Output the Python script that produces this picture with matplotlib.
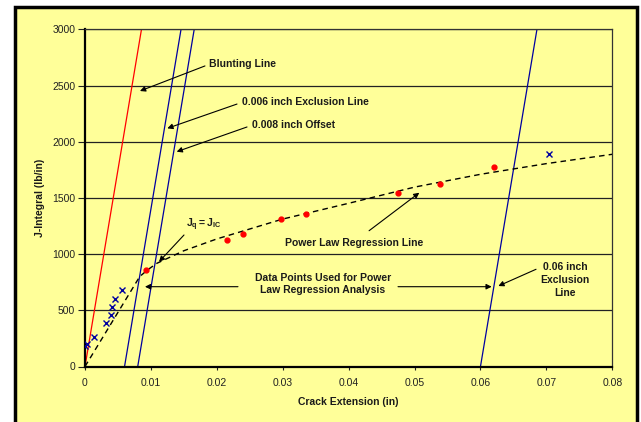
import matplotlib
matplotlib.use("Agg")
import matplotlib.pyplot as plt
from matplotlib.patches import Rectangle

plt.rcParams['font.family'] = ['Liberation Sans', 'DejaVu Sans']
plt.rcParams['mathtext.fontset'] = 'custom'
plt.rcParams['mathtext.rm'] = 'Liberation Sans'
plt.rcParams['mathtext.bf'] = 'Liberation Sans:bold'

# data
used_x = [0.00921, 0.0216, 0.0239, 0.0297, 0.0335, 0.0475, 0.0538, 0.0621]
used_j = [859, 1125, 1176, 1315, 1354, 1546, 1624, 1775]

other_x = [0.0, 0.0003, 0.00137, 0.00319, 0.0040, 0.00414, 0.00455, 0.00566, 0.0704]
other_j = [180, 200, 260, 384, 458, 527, 598, 681, 1891]

# power law regression curve (as drawn)
fit_x = [0.0, 0.0083, 0.0095, 0.0109, 0.015, 0.02, 0.03, 0.04, 0.05, 0.06, 0.07, 0.08]
fit_j = [0, 800, 860, 918, 1030, 1135, 1312, 1452, 1596, 1710, 1805, 1888]

# construction lines (end points)
blunt_x = [0.0, 0.00857]
blunt_j = [0, 3000]
excl1_x = [0.006, 0.01457]
excl1_j = [0, 3000]
offset_x = [0.008, 0.01657]
offset_j = [0, 3000]
excl2_x = [0.06, 0.06857]
excl2_j = [0, 3000]

x_ticks = [0, 0.01, 0.02, 0.03, 0.04, 0.05, 0.06, 0.07, 0.08]
x_labels = ['0', '0.01', '0.02', '0.03', '0.04', '0.05', '0.06', '0.07', '0.08']
y_ticks = [0, 500, 1000, 1500, 2000, 2500, 3000]

yellow = '#FFFF99'
navy = '#0000A0'

fig = plt.figure(figsize=(6.41, 4.22), dpi=100, facecolor='white')
border = Rectangle((15 / 641, -0.05), (636.5 - 15) / 641, 1 - 6.5 / 422 + 0.05,
                   transform=fig.transFigure, facecolor=yellow, edgecolor='black',
                   linewidth=2.5, zorder=-10)
fig.add_artist(border)

ax = fig.add_axes([85 / 641, 1 - 366.5 / 422, 527.3 / 641, 337.2 / 422])
ax.set_facecolor(yellow)

for y in y_ticks[1:]:
    ax.axhline(y, color='#222222', lw=0.9, zorder=1)

ax.plot(blunt_x, blunt_j, color='red', lw=0.9, zorder=2)
ax.plot(excl1_x, excl1_j, color=navy, lw=0.9, zorder=2)
ax.plot(offset_x, offset_j, color=navy, lw=0.9, zorder=2)
ax.plot(excl2_x, excl2_j, color=navy, lw=0.9, zorder=2)
ax.plot(fit_x, fit_j, color='black', lw=1.0, ls=(0, (4, 3)), zorder=3)

ax.plot(used_x, used_j, 'o', color='red', ms=3.5, mec='red', zorder=4)
ax.plot(other_x, other_j, 'x', color=navy, ms=4, mew=1.0, zorder=4)

ax.set_xlim(0, 0.08)
ax.set_ylim(0, 3000)
ax.set_xticks(x_ticks)
ax.set_xticklabels(x_labels)
ax.set_yticks(y_ticks)
ax.tick_params(axis='x', direction='out', length=2.5, pad=6, labelsize=7.5, colors='#222222')
ax.tick_params(axis='y', direction='out', length=5, pad=2, labelsize=7.5, colors='#222222')

for side in ['left', 'bottom']:
    ax.spines[side].set_linewidth(1.6)
    ax.spines[side].set_color('black')
for side in ['right', 'top']:
    ax.spines[side].set_linewidth(0.9)
    ax.spines[side].set_color('#333333')

fig.text(40 / 641, 1 - 198 / 422, 'J-Integral (lb/in)', rotation=90, ha='center',
         va='center', fontsize=7.5, fontweight='bold', color='#1a1a1a')
fig.text(348.7 / 641, 1 - 402 / 422, 'Crack Extension (in)', ha='center',
         va='center', fontsize=7.5, fontweight='bold', color='#1a1a1a')

arrow = dict(arrowstyle='-|>', color='black', lw=0.8, mutation_scale=8,
             shrinkA=0, shrinkB=0)
txt = dict(fontsize=7.5, fontweight='bold', color='#1a1a1a')

ax.annotate('', xy=(0.00834, 2451), xytext=(0.0182, 2674), arrowprops=arrow)
ax.text(0.0188, 2690, 'Blunting Line', ha='left', va='center', **txt)

ax.annotate('', xy=(0.01249, 2119), xytext=(0.02306, 2335), arrowprops=arrow)
ax.text(0.02377, 2356, '0.006 inch Exclusion Line', ha='left', va='center', **txt)

ax.annotate('', xy=(0.01391, 1911), xytext=(0.02458, 2131), arrowprops=arrow)
ax.text(0.02529, 2149, '0.008 inch Offset', ha='left', va='center', **txt)

ax.annotate('', xy=(0.01123, 932), xytext=(0.01502, 1170), arrowprops=arrow)
ax.text(0.01532, 1259, r'$\mathbf{J_q = J_{IC}}$', ha='left', va='center',
        fontsize=7.5, color='#1a1a1a')

ax.annotate('', xy=(0.05072, 1546), xytext=(0.0431, 1208), arrowprops=arrow)
ax.text(0.04077, 1096, 'Power Law Regression Line', ha='center', va='center', **txt)

ax.annotate('', xy=(0.0091, 710), xytext=(0.02321, 710), arrowprops=arrow)
ax.annotate('', xy=(0.0617, 710), xytext=(0.04749, 710), arrowprops=arrow)
ax.text(0.03611, 734, 'Data Points Used for Power\nLaw Regression Analysis',
        ha='center', va='center', linespacing=1.35, **txt)

ax.annotate('', xy=(0.06271, 716), xytext=(0.06843, 865), arrowprops=arrow)
ax.text(0.07283, 772, '0.06 inch\nExclusion\nLine', ha='center', va='center',
        linespacing=1.35, **txt)

fig.savefig('out.png', dpi=100, facecolor='white')
